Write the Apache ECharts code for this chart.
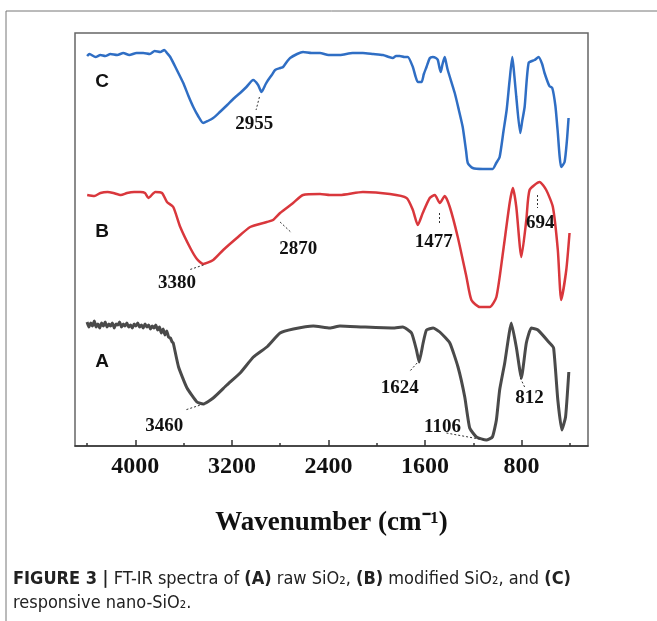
<!DOCTYPE html>
<html>
<head>
<meta charset="utf-8">
<script src="https://cdn.jsdelivr.net/npm/echarts@6/dist/echarts.min.js"></script>
<style>
  html, body { margin: 0; padding: 0; background: #fff; }
  #chart { width: 657px; height: 621px; }
</style>
</head>
<body>
<div id="chart"></div>
<script>
// wavenumber (cm-1) and relative transmittance (a.u., offset per curve)
const waveC = [4400, 4380, 4330, 4290, 4250, 4207, 4150, 4100, 4050, 3990, 3934, 3880, 3840, 3793, 3760, 3738, 3711, 3660, 3603, 3560, 3520, 3480, 3438, 3400, 3355, 3300, 3239, 3180, 3132, 3080, 3024, 2983, 2955, 2920, 2900, 2870, 2842, 2800, 2776, 2740, 2718, 2660, 2611, 2540, 2470, 2400, 2305, 2200, 2115, 2030, 1949, 1900, 1867, 1840, 1809, 1770, 1743, 1701, 1680, 1660, 1629, 1610, 1588, 1560, 1536, 1510, 1494, 1480, 1470, 1455, 1437, 1425, 1412, 1354, 1320, 1288, 1260, 1246, 1205, 1120, 1040, 1010, 982, 950, 924, 900, 877, 860, 844, 811, 795, 775, 742, 692, 659, 630, 610, 570, 546, 520, 502, 472, 444, 425, 411];
const valC  = [390, 392, 389, 391, 390, 392, 391, 393, 391, 393, 393, 392, 395, 394, 396, 393, 389, 377, 363, 350, 339, 330, 323, 325, 328, 334, 341, 348, 353, 359, 366, 361, 354, 362, 366, 371, 376, 378, 379, 385, 388, 392, 394, 393, 393, 391, 391, 393, 393, 392, 391, 389, 388, 390, 390, 389, 389, 379, 370, 364, 364, 372, 379, 388, 389, 388, 386, 378, 374, 382, 389, 383, 376, 353, 336, 319, 295, 283, 278, 277, 277, 283, 289, 315, 336, 365, 389, 370, 349, 313, 325, 339, 383, 386, 389, 382, 373, 360, 358, 340, 316, 279, 284, 305, 328];

const waveB = [4399, 4340, 4289, 4230, 4182, 4120, 4069, 4010, 3959, 3920, 3892, 3835, 3779, 3738, 3686, 3628, 3545, 3490, 3438, 3355, 3272, 3159, 3049, 2911, 2859, 2801, 2693, 2611, 2470, 2388, 2305, 2115, 1891, 1753, 1701, 1660, 1619, 1561, 1519, 1478, 1437, 1395, 1329, 1257, 1216, 1147, 1064, 1009, 955, 899, 872, 844, 802, 761, 734, 651, 596, 541, 500, 472, 430, 403];
const valB  = [251, 250, 253, 254, 253, 251, 253, 254, 254, 253, 248, 254, 253, 244, 239, 219, 198, 187, 182, 186, 196, 208, 219, 224, 226, 233, 243, 251, 252, 251, 251, 254, 252, 248, 236, 221, 233, 248, 251, 243, 250, 239, 209, 169, 146, 139, 139, 149, 193, 243, 258, 239, 189, 226, 256, 264, 256, 239, 196, 146, 176, 213];

const waveA = [4400, 4385, 4370, 4355, 4340, 4325, 4310, 4295, 4280, 4265, 4250, 4235, 4220, 4205, 4190, 4175, 4160, 4145, 4130, 4115, 4100, 4085, 4070, 4055, 4040, 4025, 4010, 3995, 3980, 3965, 3950, 3935, 3920, 3905, 3890, 3875, 3860, 3845, 3830, 3815, 3800, 3785, 3770, 3755, 3740, 3725, 3710, 3695, 3686, 3642, 3572, 3490, 3438, 3355, 3242, 3132, 3022, 2911, 2801, 2691, 2526, 2388, 2305, 2115, 1867, 1784, 1712, 1671, 1649, 1616, 1588, 1533, 1478, 1395, 1327, 1271, 1230, 1174, 1092, 1042, 1009, 982, 940, 885, 844, 802, 761, 720, 665, 568, 535, 500, 467, 436, 409];
const valA  = [124, 119, 123, 120, 125, 119, 122, 118, 123, 120, 124, 119, 122, 120, 123, 118, 122, 121, 124, 119, 122, 120, 123, 119, 121, 118, 122, 120, 123, 119, 121, 118, 122, 119, 121, 117, 120, 118, 121, 116, 119, 113, 117, 111, 115, 109, 108, 104, 103, 79, 58, 44, 42, 48, 61, 73, 89, 99, 113, 117, 120, 118, 120, 119, 118, 119, 113, 96, 84, 103, 116, 118, 114, 103, 79, 49, 18, 9, 6, 9, 26, 56, 83, 123, 99, 68, 103, 118, 116, 103, 98, 46, 16, 29, 74];

const majorTicks = [4000, 3200, 2400, 1600, 800];
const minorTicks = [4400, 3600, 2800, 2000, 1200, 400];

// peak annotations: text, label position, leader line ends
const peakText  = ['2955', '3380', '2870', '1477', '694', '3460', '1624', '812', '1106'];
const peakLabel = [[3016, 322], [3655, 163], [2650, 197], [1528, 204], [645, 223], [3760, 20], [1809, 58], [734, 48], [1456, 19]];
const peakLine  = [
  [[2972, 349], [3000, 336]],
  [[3435, 181], [3559, 176]],
  [[2801, 224], [2704, 213]],
  [[1484, 233], [1484, 221]],
  [[671, 251], [671, 238]],
  [[3435, 42], [3587, 36]],
  [[1666, 83], [1732, 74]],
  [[811, 68], [775, 59]],
  [[1423, 13], [1106, 6]]
];
const curveNames = ['C', 'B', 'A'];
const curveNamePos = [[4275, 364], [4275, 214], [4275, 84]];

function pairs(w, v) { return w.map((x, i) => [x, v[i]]); }

const serif = "'Liberation Serif', 'Times New Roman', serif";
const captionFont = "'Liberation Sans Narrow', 'DejaVu Sans Condensed', 'Liberation Sans', sans-serif";

const chart = echarts.init(document.getElementById('chart'), null, { renderer: 'canvas' });

const option = {
  animation: false,
  backgroundColor: '#fff',
  grid: { left: 75, right: 69, top: 33, bottom: 175, show: true, borderColor: '#666', borderWidth: 1.5 },
  xAxis: [
    {
      type: 'value', min: 250, max: 4500, inverse: true,
      name: 'Wavenumber (cm\u207B\u00B9)', nameLocation: 'middle', nameGap: 64,
      nameTextStyle: { fontFamily: serif, fontWeight: 'bold', fontSize: 27, color: '#111' },
      axisLine: { show: true, onZero: false, lineStyle: { color: '#333', width: 1.5 } },
      axisTick: { show: true, inside: true, length: 6, customValues: majorTicks, lineStyle: { color: '#333', width: 1.5 } },
      axisLabel: {
        customValues: majorTicks, formatter: v => String(v),
        fontFamily: serif, fontWeight: 'bold', fontSize: 24, color: '#111', margin: 9
      },
      splitLine: { show: false }
    },
    {
      type: 'value', min: 250, max: 4500, inverse: true, position: 'bottom',
      axisLine: { show: false },
      axisTick: { show: true, inside: true, length: 3, customValues: minorTicks, lineStyle: { color: '#333', width: 1.5 } },
      axisLabel: { show: false },
      splitLine: { show: false }
    }
  ],
  yAxis: { type: 'value', min: 0, max: 413, show: false },
  series: [
    {
      name: 'C', type: 'line', data: pairs(waveC, valC), showSymbol: false, smooth: 0.2,
      lineStyle: { color: '#2f6ec4', width: 2.5 }
    },
    {
      name: 'B', type: 'line', data: pairs(waveB, valB), showSymbol: false, smooth: 0.2,
      lineStyle: { color: '#d9373c', width: 2.5 }
    },
    {
      name: 'A', type: 'line', data: pairs(waveA, valA), showSymbol: false, smooth: 0.15,
      lineStyle: { color: '#4a4a4a', width: 3 },
      markLine: {
        silent: true, symbol: 'none', label: { show: false },
        lineStyle: { color: '#333', width: 1, type: [2, 2] },
        data: peakLine.map(l => [{ coord: l[0] }, { coord: l[1] }])
      },
      markPoint: {
        silent: true, symbol: 'circle', symbolSize: 0,
        data: peakText.map((t, i) => ({
          coord: peakLabel[i],
          label: { show: true, position: 'inside', formatter: t, fontFamily: serif, fontWeight: 'bold', fontSize: 19, color: '#111' }
        })).concat(curveNames.map((t, i) => ({
          coord: curveNamePos[i],
          label: { show: true, position: 'inside', formatter: t, fontFamily: "'Liberation Sans', Arial, sans-serif", fontWeight: 'bold', fontSize: 19, color: '#111' }
        })))
      }
    }
  ],
  graphic: [
    { type: 'line', shape: { x1: 6, y1: 11, x2: 657, y2: 11 }, style: { stroke: '#777', lineWidth: 1 } },
    { type: 'line', shape: { x1: 6, y1: 11, x2: 6, y2: 621 }, style: { stroke: '#777', lineWidth: 1 } },
    {
      type: 'text', left: 13, top: 570,
      style: {
        text: '{b|FIGURE 3 |} FT-IR spectra of {b|(A)} raw SiO\u2082, {b|(B)} modified SiO\u2082, and {b|(C)}',
        font: '18px ' + captionFont, fill: '#222',
        rich: { b: { fontWeight: 'bold', fontFamily: captionFont, fontSize: 18, fill: '#222' } }
      }
    },
    {
      type: 'text', left: 13, top: 594,
      style: { text: 'responsive nano-SiO\u2082.', font: '18px ' + captionFont, fill: '#222' }
    }
  ]
};

chart.setOption(option);
</script>
</body>
</html>
